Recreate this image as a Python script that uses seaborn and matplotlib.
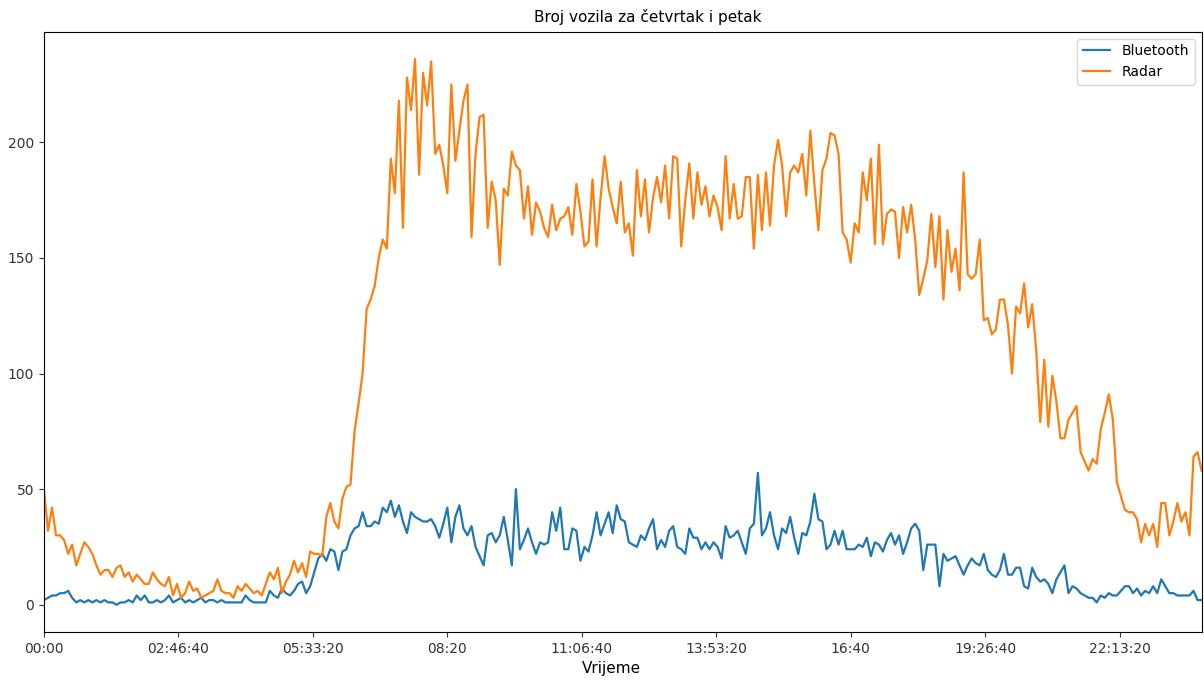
import numpy as np
import pandas as pd
import matplotlib
matplotlib.use('Agg')
import matplotlib.pyplot as plt
import matplotlib.ticker as mticker
import seaborn as sns

# Broj vozila po intervalu od 5 minuta (0 = 00:00, 287 = 23:55)
interval_s = 300

radar = [
    50, 32, 42, 30, 30, 28, 22, 26, 17, 22,
    27, 25, 22, 17, 13, 15, 15, 12, 16, 17,
    12, 14, 10, 13, 11, 9, 9, 14, 11, 9,
    8, 12, 4, 9, 3, 5, 10, 6, 7, 3,
    4, 5, 6, 11, 6, 5, 5, 3, 8, 6,
    9, 7, 5, 6, 4, 9, 14, 11, 16, 5,
    10, 13, 19, 14, 18, 12, 23, 22, 22, 21,
    38, 44, 36, 33, 46, 51, 52, 75, 87, 100,
    128, 132, 138, 150, 158, 154, 193, 178, 218, 163,
    228, 214, 236, 186, 230, 216, 235, 195, 199, 190,
    178, 225, 192, 205, 218, 225, 159, 195, 211, 212,
    163, 183, 175, 147, 180, 177, 196, 190, 188, 167,
    181, 160, 174, 170, 163, 159, 173, 162, 167, 168,
    172, 160, 182, 170, 155, 157, 184, 155, 176, 194,
    180, 172, 165, 183, 161, 165, 151, 188, 168, 184,
    161, 176, 185, 174, 190, 167, 194, 193, 155, 175,
    191, 167, 187, 173, 181, 168, 177, 172, 162, 194,
    167, 182, 167, 168, 185, 185, 154, 186, 162, 187,
    164, 190, 201, 190, 168, 187, 190, 187, 195, 177,
    205, 182, 162, 188, 193, 204, 203, 195, 161, 158,
    148, 165, 161, 187, 175, 193, 156, 199, 156, 169,
    171, 170, 150, 172, 161, 173, 158, 134, 141, 149,
    169, 146, 168, 132, 162, 144, 154, 136, 187, 143,
    141, 143, 158, 123, 124, 117, 119, 132, 132, 121,
    100, 129, 126, 139, 120, 130, 110, 79, 106, 77,
    99, 88, 72, 72, 80, 83, 86, 66, 62, 58,
    63, 61, 76, 83, 91, 80, 53, 47, 41, 40,
    40, 37, 27, 35, 30, 35, 25, 44, 44, 30,
    36, 44, 36, 40, 30, 64, 66, 58,
]

bluetooth = [
    2, 3, 4, 4, 5, 5, 6, 3, 1, 2,
    1, 2, 1, 2, 1, 2, 1, 1, 0, 1,
    1, 2, 1, 4, 2, 4, 1, 1, 2, 1,
    2, 4, 1, 2, 3, 1, 2, 1, 2, 3,
    1, 2, 2, 1, 2, 1, 1, 1, 1, 1,
    4, 2, 1, 1, 1, 1, 6, 4, 3, 7,
    5, 4, 6, 9, 10, 5, 8, 14, 20, 22,
    19, 24, 23, 15, 23, 24, 30, 33, 34, 40,
    34, 34, 36, 35, 42, 40, 45, 38, 43, 36,
    31, 40, 38, 37, 36, 36, 37, 34, 29, 35,
    42, 27, 38, 43, 33, 30, 34, 25, 21, 17,
    30, 31, 27, 30, 38, 28, 17, 50, 24, 28,
    33, 27, 22, 27, 26, 27, 40, 32, 42, 24,
    24, 33, 32, 19, 25, 23, 30, 40, 30, 35,
    40, 31, 43, 37, 36, 27, 26, 25, 30, 28,
    33, 37, 24, 28, 25, 32, 34, 25, 24, 22,
    33, 29, 29, 24, 27, 24, 27, 25, 20, 34,
    29, 30, 32, 27, 22, 33, 35, 57, 30, 33,
    40, 30, 24, 33, 31, 38, 29, 22, 31, 30,
    36, 48, 37, 36, 24, 26, 32, 26, 32, 24,
    24, 24, 26, 25, 29, 21, 27, 26, 23, 28,
    31, 26, 30, 22, 27, 33, 35, 32, 15, 26,
    26, 26, 8, 22, 19, 20, 21, 17, 13, 17,
    20, 18, 17, 22, 15, 13, 12, 15, 22, 13,
    13, 16, 16, 8, 7, 16, 12, 10, 11, 9,
    5, 11, 14, 17, 5, 8, 7, 5, 4, 3,
    3, 1, 4, 3, 5, 4, 4, 6, 8, 8,
    5, 7, 4, 6, 5, 8, 5, 11, 8, 5,
    5, 4, 4, 4, 4, 6, 2, 2,
]

n = min(len(radar), len(bluetooth))
seconds = np.arange(n) * interval_s

df = pd.concat([
    pd.DataFrame({'Vrijeme': seconds, 'Broj': bluetooth[:n], 'Izvor': 'Bluetooth'}),
    pd.DataFrame({'Vrijeme': seconds, 'Broj': radar[:n], 'Izvor': 'Radar'}),
], ignore_index=True)


def time_fmt(x, pos=None):
    # isto kao pandas TimeFormatter: sekunde samo ako nisu nula
    s = int(round(x))
    h, rem = divmod(s, 3600)
    m, sec = divmod(rem, 60)
    if sec == 0:
        return f"{h:02d}:{m:02d}"
    return f"{h:02d}:{m:02d}:{sec:02d}"


fig = plt.figure(figsize=(12.04, 6.82), dpi=100)
ax = fig.add_axes([0.0365, 0.0733, 0.9615, 0.880])

sns.lineplot(data=df, x='Vrijeme', y='Broj', hue='Izvor',
             palette=['#1f77b4', '#ff7f0e'], linewidth=1.6, ax=ax)

ax.set_xlim(seconds[0], seconds[-1])
ax.xaxis.set_major_locator(mticker.MultipleLocator(10000))
ax.xaxis.set_major_formatter(mticker.FuncFormatter(time_fmt))
ax.tick_params(labelsize=10, colors='#333333')

ax.set_xlabel('Vrijeme', fontsize=11, x=0.49)
ax.set_ylabel('')
ax.set_title('Broj vozila za četvrtak i petak', fontsize=11, x=0.522, pad=7)

handles, labels = ax.get_legend_handles_labels()
ax.legend(handles, labels, loc='upper right', fontsize=10)

plt.savefig('out.png', dpi=100)
